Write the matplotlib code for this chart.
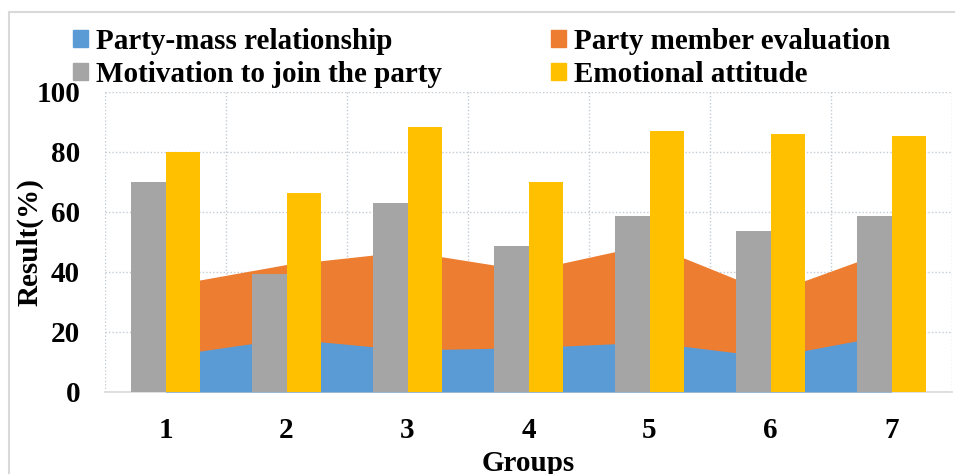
import numpy as np
import matplotlib
matplotlib.use('Agg')
import matplotlib.pyplot as plt
from matplotlib.patches import Patch, Rectangle

groups = ['1', '2', '3', '4', '5', '6', '7']
party_mass = [12.0, 17.8, 14.0, 14.8, 16.6, 11.7, 19.2]
member_eval = [35.3, 42.5, 46.9, 40.5, 49.3, 33.0, 47.6]
motivation = [69.9, 39.4, 62.9, 48.8, 58.7, 53.7, 58.6]
emotional = [80.0, 66.2, 88.4, 69.9, 87.0, 85.9, 85.4]

c_blue, c_orange, c_gray, c_yellow = '#5b9bd5', '#ed7d31', '#a5a5a5', '#ffc000'

plt.rcParams['font.family'] = ['Liberation Serif', 'DejaVu Serif']
plt.rcParams['font.weight'] = 'bold'
fs = 21

fig = plt.figure(figsize=(9.55, 4.74), dpi=100)
ax = fig.add_axes([105/955, 82/474, 847/955, 300/474])

x = np.arange(1, len(groups)+1)
w = 0.285
# areas (Party member evaluation behind, Party-mass over it)
ax.fill_between(x, 0, member_eval, color=c_orange, lw=0, zorder=2)
ax.fill_between(x, 0, party_mass, color=c_blue, lw=0, zorder=3)
ax.bar(x - w/2, motivation, w, color=c_gray, lw=0, zorder=4)
ax.bar(x + w/2, emotional, w, color=c_yellow, lw=0, zorder=4)

ax.set_xlim(0.5, 7.5)
ax.set_ylim(0, 100)
ax.set_yticks(range(0, 101, 20))
ax.set_xticks(x)
ax.set_xticklabels(groups)
ax.set_xticks(np.arange(0.5, 8, 1), minor=True)
ax.tick_params(axis='both', which='both', length=0, labelsize=fs)
ax.tick_params(axis='y', pad=18)
ax.tick_params(axis='x', pad=18)
for lab in ax.get_xticklabels() + ax.get_yticklabels():
    lab.set_fontweight('bold')

ax.set_axisbelow(True)
ax.grid(axis='y', which='major', color='#c3cbd3', linestyle=(0, (1, 1.5)), lw=1)
ax.grid(axis='x', which='minor', color='#c3cbd3', linestyle=(0, (1, 1.5)), lw=1)
for s in ['top', 'right', 'left']:
    ax.spines[s].set_visible(False)
ax.spines['bottom'].set_color('#d9d9d9')
ax.spines['bottom'].set_linewidth(1.2)

ax.set_xlabel('Groups', fontsize=fs, fontweight='bold', labelpad=4)
ax.set_ylabel('Result(%)', fontsize=fs, fontweight='bold')
ax.yaxis.set_label_coords(-0.072, 0.5)

handles = [Patch(color=c_blue), Patch(color=c_gray), Patch(color=c_orange), Patch(color=c_yellow)]
labels = ['Party-mass relationship', 'Motivation to join the party',
          'Party member evaluation', 'Emotional attitude']
fig.legend(handles, labels, ncol=2, loc='upper left', bbox_to_anchor=(73/955, 1 - 28/474),
           frameon=False, prop={'weight': 'bold', 'size': fs},
           handlelength=0.5, handleheight=0.5, handletextpad=0.28,
           columnspacing=3.75, labelspacing=0.2, borderpad=0, borderaxespad=0)

fig.patches.append(Rectangle((9/955, -0.1), 1.2, 462/474 + 0.1, transform=fig.transFigure,
                             fill=False, edgecolor='#d9d9d9', lw=1.5))

fig.savefig('out.png', dpi=100)
